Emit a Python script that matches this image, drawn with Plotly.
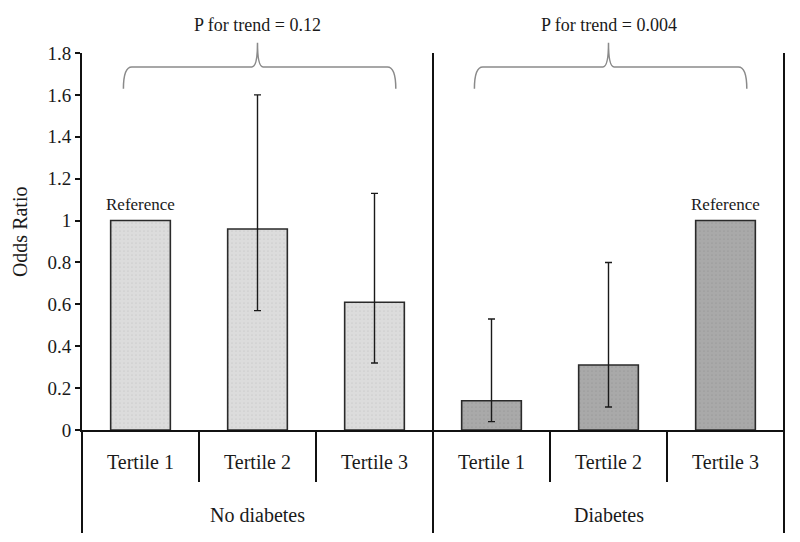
import plotly.graph_objects as go

# ---- data ----
groups = ["No diabetes", "No diabetes", "No diabetes", "Diabetes", "Diabetes", "Diabetes"]
tertiles = ["Tertile 1", "Tertile 2", "Tertile 3", "Tertile 1", "Tertile 2", "Tertile 3"]
odds_ratio = [1.0, 0.96, 0.61, 0.14, 0.31, 1.0]
ci_low = [None, 0.57, 0.32, 0.04, 0.11, None]
ci_high = [None, 1.60, 1.13, 0.53, 0.80, None]
reference_idx = [0, 5]
group_names = ["No diabetes", "Diabetes"]
p_trend = ["P for trend = 0.12", "P for trend = 0.004"]
y_ticks = [0, 0.2, 0.4, 0.6, 0.8, 1.0, 1.2, 1.4, 1.6, 1.8]

FONT = "Liberation Serif, Times New Roman, serif"
TXT = "#1a1a1a"
colors = {"No diabetes": "#dcdcdc", "Diabetes": "#a9a9a9"}

n = len(odds_ratio)
xpos = list(range(n))

fig = go.Figure()
for g in group_names:
    idx = [i for i in range(n) if groups[i] == g]
    fig.add_trace(go.Bar(
        x=[xpos[i] for i in idx],
        y=[odds_ratio[i] for i in idx],
        width=0.51,
        marker=dict(
            color=colors[g],
            line=dict(color="#2a2a2a", width=1.6),
            pattern=dict(shape=".", fgcolor="#bdbdbd" if g == "No diabetes" else "#8f8f8f",
                         bgcolor=colors[g], size=4, solidity=0.15),
        ),
        showlegend=False,
        hoverinfo="skip",
    ))

# confidence intervals (only for non-reference categories)
ci_idx = [i for i in range(n) if ci_high[i] is not None]
fig.add_trace(go.Scatter(
    x=[xpos[i] for i in ci_idx],
    y=[odds_ratio[i] for i in ci_idx],
    mode="markers",
    marker=dict(size=0.1, color="rgba(0,0,0,0)"),
    error_y=dict(
        type="data", symmetric=False,
        array=[ci_high[i] - odds_ratio[i] for i in ci_idx],
        arrayminus=[odds_ratio[i] - ci_low[i] for i in ci_idx],
        visible=True, color="#1a1a1a", thickness=1.4, width=3.5,
    ),
    showlegend=False,
    hoverinfo="skip",
))

layout_shapes = []
ann = []

# Reference labels
for i in reference_idx:
    ann.append(dict(x=xpos[i], y=odds_ratio[i], xref="x", yref="y", text="Reference",
                    showarrow=False, yshift=16, xanchor="center", yanchor="middle",
                    font=dict(family=FONT, size=17, color=TXT)))


def xp(v):
    return (v + 0.5) / n


for i in range(n):
    ann.append(dict(x=xp(xpos[i]), y=-0.085, xref="paper", yref="paper", text=tertiles[i],
                    showarrow=False, xanchor="center", yanchor="middle",
                    font=dict(family=FONT, size=20, color=TXT)))

for gi, g in enumerate(group_names):
    idx = [i for i in range(n) if groups[i] == g]
    cx = (xp(xpos[idx[0]]) + xp(xpos[idx[-1]])) / 2
    ann.append(dict(x=cx, y=-0.225, xref="paper", yref="paper", text=g,
                    showarrow=False, xanchor="center", yanchor="middle",
                    font=dict(family=FONT, size=20, color=TXT)))
    ann.append(dict(x=cx, y=1.074, xref="paper", yref="paper", text=p_trend[gi],
                    showarrow=False, xanchor="center", yanchor="middle",
                    font=dict(family=FONT, size=18, color=TXT)))
    # curly brace spanning the group
    x1 = xp(xpos[idx[0]] - 0.5) + 0.059
    x2 = xp(xpos[idx[-1]] + 0.5) - 0.053
    yb, yh, yt = 0.905, 0.963, 1.027
    dx = 0.012
    dxc = 0.008
    path = (f"M {x1},{yb} Q {x1},{yh} {x1+dx},{yh} L {cx-dxc},{yh} "
            f"Q {cx},{yh} {cx},{yt} Q {cx},{yh} {cx+dxc},{yh} "
            f"L {x2-dx},{yh} Q {x2},{yh} {x2},{yb}")
    layout_shapes.append(dict(type="path", path=path, xref="paper", yref="paper",
                              line=dict(color="#8a8a8a", width=1.5)))

# y axis title
ann.append(dict(x=0, y=0.525, xref="paper", yref="paper", text="Odds Ratio", textangle=-90,
                xshift=-62, showarrow=False, xanchor="center", yanchor="middle",
                font=dict(family=FONT, size=20, color=TXT)))

# vertical lines: left axis extension, group divider, right border
bottom_long = -0.273
bottom_short = -0.138
for v in [0.0, 0.5, 1.0]:
    y1 = 0.0 if v == 0.0 else 1.0
    layout_shapes.append(dict(type="line", xref="paper", yref="paper", x0=v, x1=v,
                              y0=bottom_long, y1=y1, line=dict(color="#111111", width=2)))
for b in [1, 2, 4, 5]:
    layout_shapes.append(dict(type="line", xref="paper", yref="paper", x0=b / n, x1=b / n,
                              y0=bottom_short, y1=0, line=dict(color="#111111", width=2)))

fig.update_layout(
    width=800, height=542,
    margin=dict(l=82, r=16, t=53, b=112),
    plot_bgcolor="white", paper_bgcolor="white",
    font=dict(family=FONT, size=15, color=TXT),
    shapes=layout_shapes,
    annotations=ann,
    xaxis=dict(range=[-0.5, n - 0.5], showticklabels=False, ticks="", showgrid=False,
               zeroline=False, showline=True, linecolor="#111111", linewidth=2),
    yaxis=dict(range=[0, 1.8], tickvals=y_ticks, ticktext=[f"{t:g}" for t in y_ticks],
               ticks="outside", ticklen=5, tickwidth=2, tickcolor="#111111",
               showline=True, linecolor="#111111", linewidth=2, showgrid=False, zeroline=False,
               tickfont=dict(family=FONT, size=19, color=TXT)),
)

fig.write_html("out.html", config={"displayModeBar": False},
               post_script="document.body.style.margin='0';document.body.style.overflow='hidden';")
